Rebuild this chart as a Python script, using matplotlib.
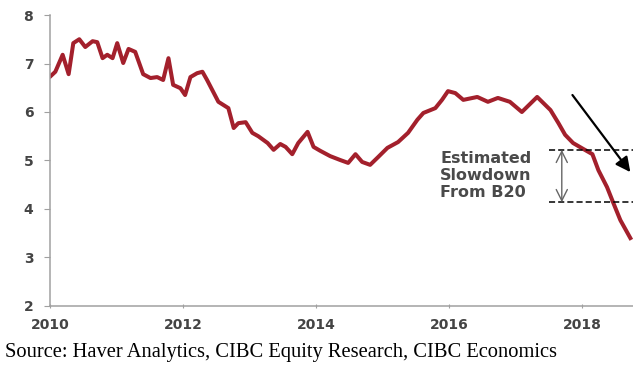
import matplotlib.pyplot as plt

# values (decimal year, value)
years = [2010.01, 2010.08, 2010.19, 2010.28, 2010.35, 2010.44, 2010.53, 2010.64,
         2010.71, 2010.79, 2010.86, 2010.94, 2011.01, 2011.10, 2011.18, 2011.28,
         2011.40, 2011.51, 2011.61, 2011.70, 2011.78, 2011.85, 2011.96, 2012.03,
         2012.11, 2012.21, 2012.29, 2012.36, 2012.53, 2012.68, 2012.76, 2012.83,
         2012.94, 2013.04, 2013.13, 2013.27, 2013.36, 2013.46, 2013.54, 2013.64,
         2013.73, 2013.87, 2013.96, 2014.06, 2014.21, 2014.36, 2014.48, 2014.59,
         2014.69, 2014.81, 2014.93, 2015.07, 2015.23, 2015.38, 2015.52, 2015.61,
         2015.79, 2015.89, 2015.98, 2016.09, 2016.21, 2016.42, 2016.58, 2016.73,
         2016.91, 2017.09, 2017.32, 2017.52, 2017.64, 2017.74, 2017.86, 2018.01,
         2018.15, 2018.24, 2018.37, 2018.46, 2018.57, 2018.72]
values = [6.74, 6.83, 7.18, 6.78, 7.42, 7.50, 7.34, 7.46,
          7.44, 7.11, 7.18, 7.11, 7.42, 7.01, 7.30, 7.24,
          6.78, 6.70, 6.72, 6.66, 7.11, 6.56, 6.49, 6.35,
          6.72, 6.80, 6.83, 6.66, 6.21, 6.08, 5.67, 5.77,
          5.79, 5.57, 5.50, 5.36, 5.22, 5.34, 5.28, 5.13,
          5.36, 5.59, 5.28, 5.20, 5.09, 5.01, 4.95, 5.13,
          4.97, 4.91, 5.07, 5.26, 5.38, 5.57, 5.84, 5.98,
          6.08, 6.25, 6.43, 6.39, 6.25, 6.31, 6.21, 6.29,
          6.21, 6.00, 6.31, 6.04, 5.77, 5.53, 5.36, 5.24,
          5.13, 4.80, 4.45, 4.14, 3.77, 3.40]

xticks = [2010, 2012, 2014, 2016, 2018]
yticks = [2, 3, 4, 5, 6, 7, 8]
slow_hi = 5.22
slow_lo = 4.14
note = "Estimated\nSlowdown\nFrom B20"
source = "Source: Haver Analytics, CIBC Equity Research, CIBC Economics"

fig = plt.figure(figsize=(6.33, 3.66), dpi=100)
ax = fig.add_axes([0.079, 0.164, 0.921, 0.795])

ax.plot(years, values, color='#a3202c', lw=2.9, solid_joinstyle='round')

ax.set_xlim(2010, 2018.76)
ax.set_ylim(2, 8)
ax.set_xticks(xticks)
ax.set_yticks(yticks)
for sp in ['top', 'right']:
    ax.spines[sp].set_visible(False)
for sp in ['left', 'bottom']:
    ax.spines[sp].set_color('#a0a0a0')
    ax.spines[sp].set_linewidth(1.1)
ax.tick_params(axis='y', length=4, color='#a0a0a0', pad=8)
ax.tick_params(axis='x', length=3, color='#a0a0a0', direction='inout', pad=7)
for lab in ax.get_xticklabels() + ax.get_yticklabels():
    lab.set_fontweight('bold')
    lab.set_color('#444444')
    lab.set_fontsize(10)

# dashed slowdown band
ax.plot([2017.5, 2018.76], [slow_hi, slow_hi], ls=(0, (4, 2)), color='black', lw=1.1, clip_on=False)
ax.plot([2017.5, 2018.76], [slow_lo, slow_lo], ls=(0, (4, 2)), color='black', lw=1.1, clip_on=False)
ax.annotate('', xy=(2017.69, slow_hi), xytext=(2017.69, slow_lo),
            arrowprops=dict(arrowstyle='<->', color='#666666', lw=1.0,
                            mutation_scale=20, shrinkA=0, shrinkB=0))
ax.text(2015.86, 4.69, note, fontsize=11.5, fontweight='bold', color='#4a4a4a',
        ha='left', va='center', linespacing=1.2)

# black trend arrow
ax.annotate('', xy=(2018.72, 4.76), xytext=(2017.85, 6.35),
            arrowprops=dict(arrowstyle='-|>', color='black', lw=1.6,
                            mutation_scale=22, shrinkA=0, shrinkB=0))

fig.text(5 / 633, 1 - 352 / 366, source, fontsize=14.8, family='Liberation Serif',
         ha='left', va='center', color='black')

fig.savefig('out.png', dpi=100)
